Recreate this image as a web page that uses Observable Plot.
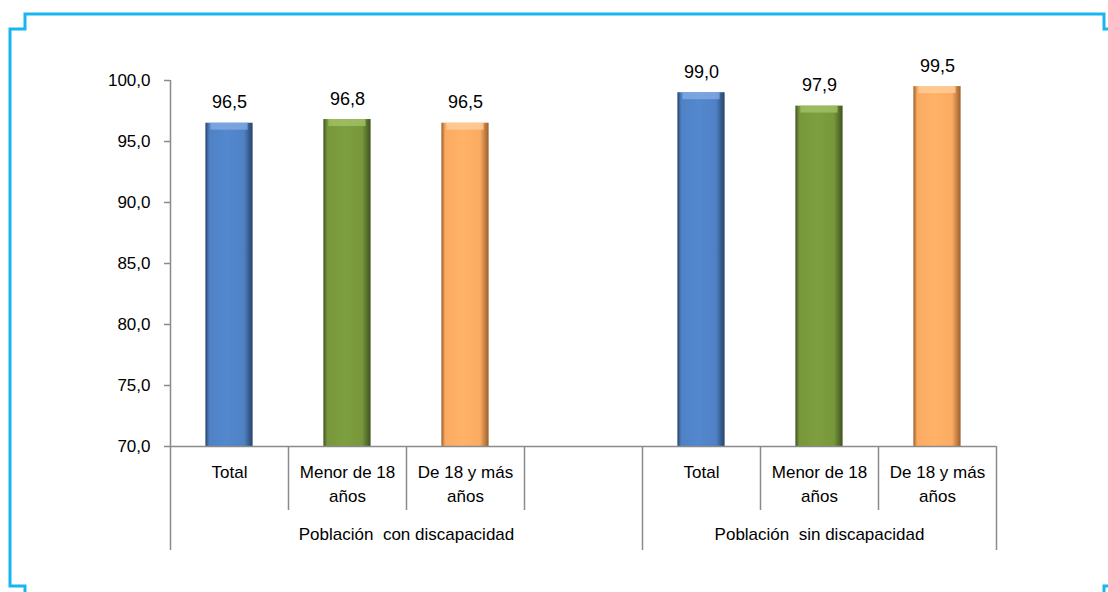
<!DOCTYPE html>
<html>
<head>
<meta charset="utf-8">
<script src="https://cdn.jsdelivr.net/npm/d3@7"></script>
<script src="https://cdn.jsdelivr.net/npm/@observablehq/plot@0.6"></script>
<style>
  html, body { margin: 0; padding: 0; background: #fff; }
  #wrap { position: relative; width: 1108px; height: 592px; overflow: hidden; }
  #frame { position: absolute; left: 0; top: 0; pointer-events: none; }
</style>
</head>
<body>
<div id="wrap">
  <div id="chart"></div>
  <svg id="frame" width="1108" height="592">
    <path d="M25,592 V586 H10 V29 H25 V14 H1104 V29 H1108" fill="none" stroke="#18b6f0" stroke-width="3"/>
    <path d="M1104,592 V586 H1108" fill="none" stroke="#18b6f0" stroke-width="3"/>
  </svg>
</div>
<script>
// ---- data ----
const groups = ["Población  con discapacidad", "Población  sin discapacidad"];
const categories = ["Total", "Menor de 18\naños", "De 18 y más\naños"];
const conDiscapacidad = [96.5, 96.8, 96.5];
const sinDiscapacidad = [99.0, 97.9, 99.5];
const yTicks = [70, 75, 80, 85, 90, 95, 100];
const barColors = ["#4f81c4", "#77973b", "#fbaa62"];
const barDark = ["#27426b", "#3f5320", "#9a5f2c"];
const barLight = ["#86aee6", "#a4c46a", "#ffd0a0"];

// ---- layout of slots: each group gets 3 bars + (first group) one empty slot ----
const seriesByGroup = [conDiscapacidad, sinDiscapacidad];
const rows = [];
seriesByGroup.forEach((vals, gi) => {
  vals.forEach((v, ci) => rows.push({group: groups[gi], gi, ci, cat: categories[ci], value: v, slot: gi * 4 + ci}));
});
const groupSpans = [{label: groups[0], from: 0, to: 4}, {label: groups[1], from: 4, to: 7}];
const longBounds = [0, 4, 7];
const shortBounds = [1, 2, 3, 5, 6];
const grey = "#8a8a8a";
const font = "'Liberation Sans', Arial, sans-serif";

const barMarks = [0, 1, 2].flatMap(ci => [
  Plot.rectY(rows.filter(d => d.ci === ci), {
    x1: d => d.slot + 0.3, x2: d => d.slot + 0.7, y1: 70, y2: "value",
    fill: `url(#grad${ci})`
  }),
  Plot.rectY(rows.filter(d => d.ci === ci), {
    x1: d => d.slot + 0.3, x2: d => d.slot + 0.7, y1: "value", y2: "value",
    insetBottom: -7, insetLeft: 5, insetRight: 5,
    fill: barLight[ci], fillOpacity: 0.75
  })
]);

const chart = Plot.plot({
  width: 1108,
  height: 592,
  marginLeft: 170,
  marginRight: 112,
  marginTop: 80,
  marginBottom: 146,
  style: {fontFamily: font, fontSize: "17px", color: "#000", background: "transparent"},
  x: {domain: [0, 7], axis: null},
  y: {domain: [70, 100], axis: null},
  marks: [
    ...barMarks,
    Plot.axisY(yTicks, {tickSize: 6, tickPadding: 14, stroke: grey, strokeWidth: 1.5, label: null,
      tickFormat: d => d.toFixed(1).replace(".", ","), fontSize: 17, fill: "#000"}),
    Plot.ruleX([0], {y1: 70, y2: 100, stroke: grey, strokeWidth: 1.5}),
    Plot.ruleY([70], {x1: 0, x2: 7, stroke: grey, strokeWidth: 1.5}),
    Plot.axisX(longBounds, {anchor: "bottom", tickSize: 104, stroke: grey, strokeWidth: 1.5, label: null, tickFormat: () => ""}),
    Plot.axisX(shortBounds, {anchor: "bottom", tickSize: 64, stroke: grey, strokeWidth: 1.5, label: null, tickFormat: () => ""}),
    Plot.text(rows, {x: d => d.slot + 0.5, text: "cat", frameAnchor: "bottom", lineAnchor: "top",
      dy: 15, lineHeight: 1.38, fontSize: 17, fill: "#000"}),
    Plot.text(groupSpans, {x: d => (d.from + d.to) / 2, text: "label", frameAnchor: "bottom", lineAnchor: "top",
      dy: 81, fontSize: 17, fill: "#000"}),
    Plot.text(rows, {x: d => d.slot + 0.5, y: "value", text: d => d.value.toFixed(1).replace(".", ","),
      lineAnchor: "bottom", dy: -15, fontSize: 18, fill: "#000"})
  ]
});

// gradient definitions for bevelled bars
const defs = d3.select(chart).insert("defs", ":first-child");
barColors.forEach((c, i) => {
  const g = defs.append("linearGradient").attr("id", `grad${i}`).attr("x1", 0).attr("x2", 1).attr("y1", 0).attr("y2", 0);
  g.append("stop").attr("offset", "0%").attr("stop-color", barDark[i]);
  g.append("stop").attr("offset", "8%").attr("stop-color", c);
  g.append("stop").attr("offset", "45%").attr("stop-color", d3.color(c).brighter(0.15));
  g.append("stop").attr("offset", "82%").attr("stop-color", c);
  g.append("stop").attr("offset", "100%").attr("stop-color", barDark[i]);
});

document.getElementById("chart").appendChild(chart);
</script>
</body>
</html>
